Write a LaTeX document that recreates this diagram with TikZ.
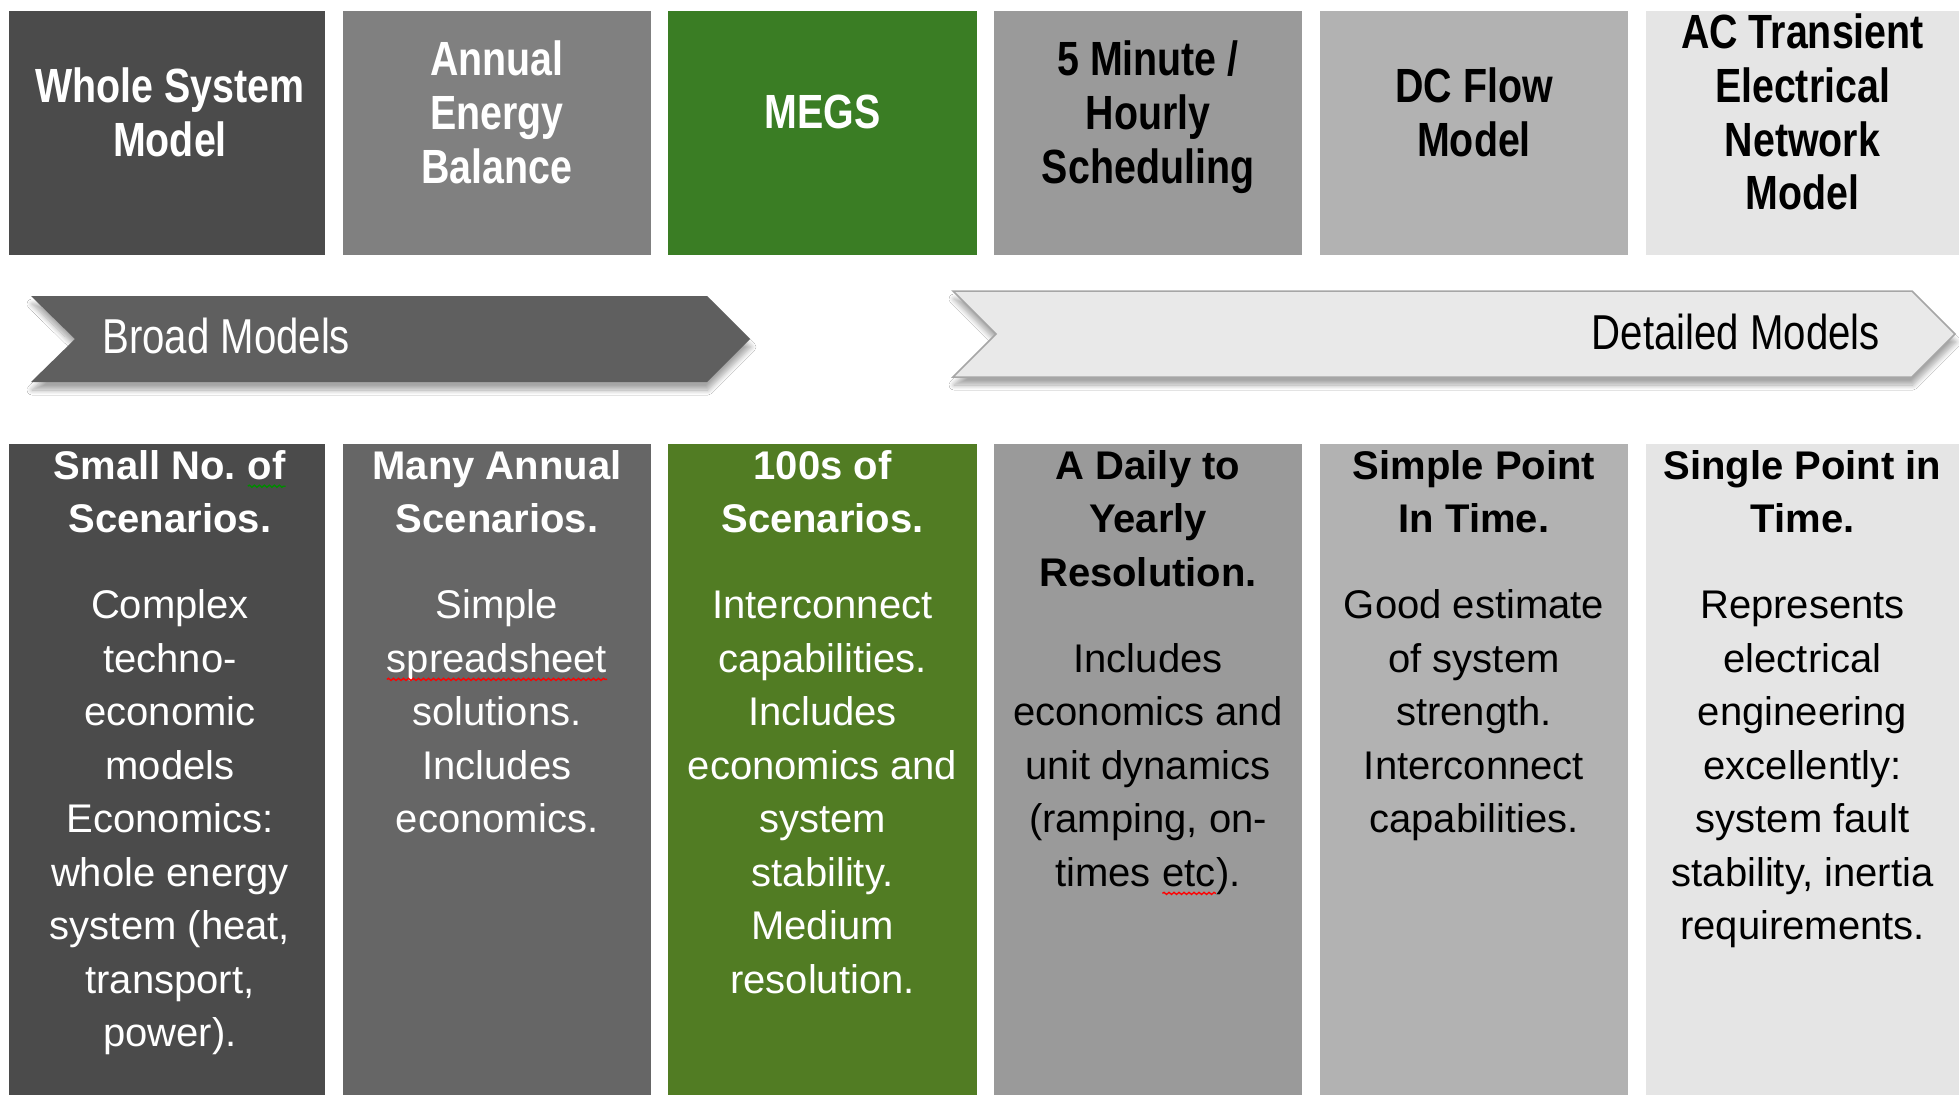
\documentclass[tikz,border=0pt]{standalone}
\usepackage{fontspec}
\setmainfont{Liberation Sans}
\newfontfamily\narrowfont[FakeStretch=0.82]{Liberation Sans}
\usetikzlibrary{shadows.blur,decorations.pathmorphing}
\definecolor{cA}{HTML}{4B4B4B}
\definecolor{cBt}{HTML}{808080}
\definecolor{cBb}{HTML}{666666}
\definecolor{cGt}{RGB}{58,125,36}
\definecolor{cGb}{RGB}{81,124,35}
\definecolor{cD}{HTML}{9A9A9A}
\definecolor{cE}{HTML}{B2B2B2}
\definecolor{cF}{HTML}{E5E5E5}
\definecolor{broadfill}{HTML}{5F5F5F}
\definecolor{detfill}{HTML}{E9E9E9}
\definecolor{detline}{HTML}{A6A6A6}
\newcommand\squig[2]{\tikz[baseline=(sq.base)]{\node[inner sep=0pt,outer sep=0pt,anchor=base] (sq) {#2};\draw[#1,line width=1.3pt,decorate,decoration={snake,amplitude=1.1pt,segment length=5pt}] ([yshift=-7pt]sq.base west) -- ([yshift=-7pt]sq.base east);}}
\begin{document}
\begin{tikzpicture}[x=1pt,y=-1pt,
  panel/.style={draw=none,inner sep=0pt,outer sep=0pt,anchor=north west},
  toppanel/.style={panel,minimum height=244pt},
  botpanel/.style={panel,minimum height=651pt},
  toptext/.style={inner sep=0pt,align=center,text depth=0pt,font=\narrowfont\bfseries\fontsize{48}{53.7}\selectfont},
  bottext/.style={inner sep=0pt,anchor=north,align=center,font=\fontsize{40}{53.5}\selectfont},
  bandtext/.style={inner sep=0pt,font=\narrowfont\fontsize{49}{55}\selectfont},
  band/.style={blur shadow={shadow xshift=1pt,shadow yshift=-8pt,shadow blur radius=5pt,shadow blur steps=10,shadow opacity=35}}
]
\useasboundingbox (0,0) rectangle (1959,1095);
\fill[white] (0,0) rectangle (1959,1095);

% top panels
\node[toppanel,fill=cA,minimum width=316pt] (t1) at (9,11) {};
\node[toppanel,fill=cBt,minimum width=308pt] (t2) at (343,11) {};
\node[toppanel,fill=cGt,minimum width=309pt] (t3) at (668,11) {};
\node[toppanel,fill=cD,minimum width=308pt] (t4) at (994,11) {};
\node[toppanel,fill=cE,minimum width=308pt] (t5) at (1320,11) {};
\node[toppanel,fill=cF,minimum width=313pt] (t6) at (1646,11) {};

\node[toptext,text=white] (t1l) at ([xshift=3pt,yshift=21pt]t1.center) {Whole System\\Model};
\node[toptext,text=white] (t2l) at ([yshift=21pt]t2.center) {Annual\\Energy\\Balance};
\node[toptext,text=white] (t3l) at ([yshift=21pt]t3.center) {MEGS};
\node[toptext,text=black] (t4l) at ([yshift=21pt]t4.center) {5 Minute /\\Hourly\\Scheduling};
\node[toptext,text=black] (t5l) at ([yshift=21pt]t5.center) {DC Flow\\Model};
\node[toptext,text=black] (t6l) at ([yshift=21pt]t6.center) {AC Transient\\Electrical\\Network\\Model};

% bands
\path[band,fill=broadfill] (31,296) coordinate (ba1) -- (707,296) coordinate (ba2) -- (750,339) coordinate (ba3) -- (707,382) coordinate (ba4) -- (31,382) coordinate (ba5) -- (75,339) coordinate (ba6) -- cycle;
\node[bandtext,text=white,anchor=west] (broad) at (102,336) {Broad Models};
\path[band,fill=detfill,draw=detline,line width=1.5pt] (953,291) coordinate (da1) -- (1912,291) coordinate (da2) -- (1955,334) coordinate (da3) -- (1912,377) coordinate (da4) -- (953,377) coordinate (da5) -- (996,334) coordinate (da6) -- cycle;
\node[bandtext,text=black,anchor=east] (detailed) at (1880,332) {Detailed Models};

% bottom panels
\node[botpanel,fill=cA,minimum width=316pt] (b1) at (9,444) {};
\node[botpanel,fill=cBb,minimum width=308pt] (b2) at (343,444) {};
\node[botpanel,fill=cGb,minimum width=309pt] (b3) at (668,444) {};
\node[botpanel,fill=cD,minimum width=308pt] (b4) at (994,444) {};
\node[botpanel,fill=cE,minimum width=308pt] (b5) at (1320,444) {};
\node[botpanel,fill=cF,minimum width=313pt] (b6) at (1646,444) {};

\node[bottext,text=white] (b1l) at ([xshift=3pt,yshift=-6pt]b1.north) {\textbf{Small No.\ \squig{green!55!black}{of}}\\\textbf{Scenarios.}\\[32.7pt]Complex\\techno-\\economic\\models\\Economics:\\whole energy\\system (heat,\\transport,\\power).};
\node[bottext,text=white] (b2l) at ([yshift=-6pt]b2.north) {\textbf{Many Annual}\\\textbf{Scenarios.}\\[32.7pt]Simple\\\squig{red}{spreadsheet}\\solutions.\\Includes\\economics.};
\node[bottext,text=white] (b3l) at ([yshift=-6pt]b3.north) {\textbf{100s of}\\\textbf{Scenarios.}\\[32.7pt]Interconnect\\capabilities.\\Includes\\economics and\\system\\stability.\\Medium\\resolution.};
\node[bottext,text=black] (b4l) at ([yshift=-6pt]b4.north) {\textbf{A Daily to}\\\textbf{Yearly}\\\textbf{Resolution.}\\[32.7pt]Includes\\economics and\\unit dynamics\\(ramping, on-\\times \squig{red}{etc}).};
\node[bottext,text=black] (b5l) at ([yshift=-6pt]b5.north) {\textbf{Simple Point}\\\textbf{In Time.}\\[32.7pt]Good estimate\\of system\\strength.\\Interconnect\\capabilities.};
\node[bottext,text=black] (b6l) at ([yshift=-6pt]b6.north) {\textbf{Single Point in}\\\textbf{Time.}\\[32.7pt]Represents\\electrical\\engineering\\excellently:\\system fault\\stability, inertia\\requirements.};
\end{tikzpicture}
\end{document}
